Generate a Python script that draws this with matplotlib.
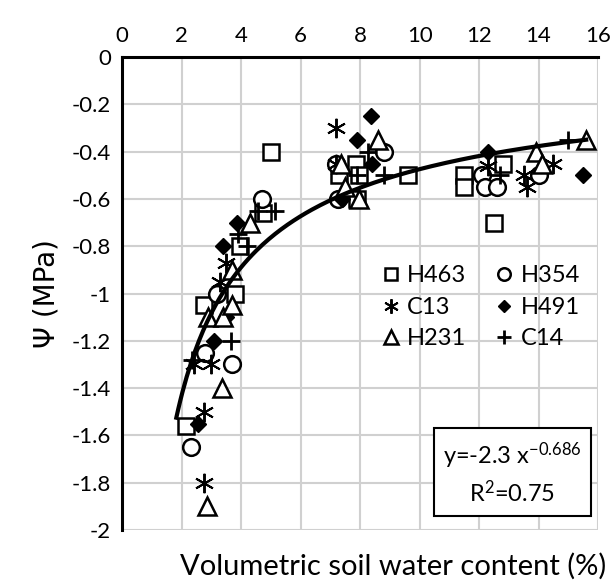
import numpy as np
import matplotlib.pyplot as plt

plt.rcParams['font.family'] = ['Lato', 'DejaVu Sans']
plt.rcParams['mathtext.fontset'] = 'custom'
plt.rcParams['mathtext.rm'] = 'Lato'
plt.rcParams['mathtext.it'] = 'Lato'

# data
h463_x = [2.15, 2.75, 3.8, 3.95, 4.75, 5.0, 7.3, 7.85, 7.95, 7.9, 9.6, 11.5, 11.5, 12.8, 12.5]
h463_y = [-1.56, -1.05, -1.0, -0.8, -0.66, -0.40, -0.50, -0.45, -0.50, -0.60, -0.50, -0.50, -0.55, -0.45, -0.70]
h354_x = [2.3, 2.8, 3.2, 3.7, 4.7, 7.2, 7.25, 8.8, 12.1, 12.2, 12.6, 14.0]
h354_y = [-1.65, -1.25, -1.0, -1.3, -0.6, -0.45, -0.6, -0.4, -0.5, -0.55, -0.55, -0.5]
c13_x = [2.4, 2.75, 2.75, 3.0, 3.3, 3.5, 7.2, 7.2, 12.3, 13.5, 13.6, 14.5]
c13_y = [-1.3, -1.5, -1.8, -1.3, -0.95, -0.87, -0.3, -0.45, -0.46, -0.5, -0.55, -0.45]
h491_x = [2.55, 3.1, 3.5, 3.4, 3.85, 7.4, 7.9, 8.35, 8.4, 12.3, 15.5]
h491_y = [-1.55, -1.2, -1.1, -0.8, -0.7, -0.6, -0.35, -0.25, -0.45, -0.4, -0.5]
h231_x = [2.85, 2.9, 3.35, 3.4, 3.7, 3.7, 4.3, 7.35, 7.5, 7.95, 8.6, 13.9, 14.1, 15.6]
h231_y = [-1.9, -1.1, -1.4, -1.1, -1.05, -0.9, -0.7, -0.45, -0.55, -0.6, -0.35, -0.4, -0.45, -0.35]
c14_x = [2.35, 3.65, 3.9, 4.2, 4.55, 5.15, 7.9, 8.25, 8.8, 12.7, 15.0]
c14_y = [-1.28, -1.2, -0.75, -0.8, -0.65, -0.65, -0.5, -0.4, -0.5, -0.5, -0.35]

fit_a = -2.3
fit_b = -0.686
fit_range = [1.82, 15.6]

fig = plt.figure(figsize=(6.14, 5.83), dpi=100)
ax = fig.add_axes([0.199, 0.091, 0.775, 0.811])

mk = dict(linestyle='none', color='black')
h1, = ax.plot(h463_x, h463_y, marker='s', ms=12, mfc='white', mew=1.8, label='H463', **mk)
h2, = ax.plot(h354_x, h354_y, marker='o', ms=12, mfc='white', mew=1.8, label='H354', **mk)
h3, = ax.plot(c13_x, c13_y, marker=(6, 2, 0), ms=14, mew=1.4, label='C13', **mk)
h4, = ax.plot(h491_x, h491_y, marker='D', ms=8.5, mfc='black', mew=1.0, label='H491', **mk)
h5, = ax.plot(h231_x, h231_y, marker='^', ms=12.5, mfc='white', mew=1.8, label='H231', **mk)
h6, = ax.plot(c14_x, c14_y, marker='+', ms=13, mew=2, label='C14', **mk)

xf = np.linspace(fit_range[0], fit_range[1], 200)
ax.plot(xf, fit_a * xf ** fit_b, color='black', lw=3)

ax.set_xlim(0, 16)
ax.set_ylim(-2, 0)
ax.set_xticks(range(0, 17, 2))
yt = np.round(np.arange(0, -2.01, -0.2), 1)
ax.set_yticks(yt)
ax.set_yticklabels(['%g' % v for v in yt])
ax.xaxis.tick_top()
ax.tick_params(length=0, labelsize=16, pad=8)
ax.grid(color='#d0d0d0', lw=1.5)
ax.set_axisbelow(True)
for s in ['right', 'bottom']:
    ax.spines[s].set_visible(False)
for s in ['top', 'left']:
    ax.spines[s].set_linewidth(2.2)

ax.set_ylabel('\u03a8 (MPa)', fontsize=20, labelpad=8, family=['DejaVu Sans'])
fig.text(393 / 614, 1 - 566 / 583, 'Volumetric soil water content (%)', fontsize=21,
         ha='center', va='center')

leg = ax.legend(handles=[h1, h3, h5, h2, h4, h6], ncol=2, loc='upper left',
                bbox_to_anchor=(0.505, 0.605), frameon=False, fontsize=17,
                handlelength=0.6, handletextpad=0.4, columnspacing=1.3,
                labelspacing=0.45, markerscale=0.75)

ax.text(0.82, 0.12, 'y=-2.3 x$^{-0.686}$\nR$^{2}$=0.75', transform=ax.transAxes,
        ha='center', va='center', fontsize=17, linespacing=1.4,
        bbox=dict(boxstyle='square,pad=0.4', fc='white', ec='black', lw=1.5))

fig.savefig('out.png', dpi=100)
